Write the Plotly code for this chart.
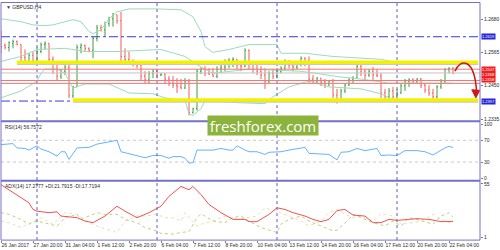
import plotly.graph_objects as go

# ---------------- data ----------------
bar_idx = list(range(114))
open_ = [1.2637,1.2589,1.2582,1.2596,1.2603,1.2592,1.2548,1.2534,1.2555,1.2534,
         1.2568,1.2592,1.2596,1.2541,1.2507,1.2483,1.2500,1.2514,1.2415,1.2446,
         1.2582,1.2589,1.2579,1.2572,1.2613,1.2650,1.2643,1.2664,1.2681,1.2695,
         1.2674,1.2551,1.2541,1.2531,1.2527,1.2521,1.2483,1.2470,1.2493,1.2500,
         1.2487,1.2490,1.2473,1.2459,1.2452,1.2446,1.2442,1.2466,1.2357,1.2371,
         1.2500,1.2507,1.2493,1.2490,1.2483,1.2507,1.2514,1.2534,1.2538,1.2541,
         1.2521,1.2517,1.2572,1.2524,1.2507,1.2500,1.2487,1.2466,1.2493,1.2483,
         1.2500,1.2510,1.2534,1.2521,1.2514,1.2527,1.2545,1.2534,1.2473,1.2466,
         1.2476,1.2463,1.2456,1.2466,1.2418,1.2398,1.2432,1.2452,1.2470,1.2476,
         1.2517,1.2500,1.2487,1.2500,1.2487,1.2483,1.2425,1.2412,1.2432,1.2412,
         1.2425,1.2449,1.2466,1.2470,1.2466,1.2473,1.2452,1.2435,1.2425,1.2412,
         1.2446,1.2466,1.2507,1.2510]
high = [1.2640,1.2596,1.2603,1.2609,1.2606,1.2592,1.2575,1.2562,1.2568,1.2582,
        1.2599,1.2603,1.2596,1.2551,1.2534,1.2507,1.2524,1.2524,1.2449,1.2592,
        1.2596,1.2592,1.2582,1.2620,1.2660,1.2660,1.2671,1.2688,1.2701,1.2695,
        1.2705,1.2579,1.2568,1.2541,1.2534,1.2527,1.2500,1.2500,1.2507,1.2507,
        1.2493,1.2493,1.2483,1.2483,1.2476,1.2473,1.2476,1.2473,1.2374,1.2507,
        1.2514,1.2517,1.2510,1.2510,1.2517,1.2524,1.2541,1.2545,1.2548,1.2541,
        1.2534,1.2579,1.2575,1.2527,1.2524,1.2517,1.2510,1.2500,1.2507,1.2510,
        1.2517,1.2541,1.2538,1.2527,1.2534,1.2551,1.2548,1.2551,1.2487,1.2480,
        1.2476,1.2473,1.2470,1.2473,1.2439,1.2439,1.2459,1.2476,1.2483,1.2524,
        1.2521,1.2507,1.2507,1.2514,1.2507,1.2493,1.2439,1.2442,1.2446,1.2439,
        1.2456,1.2473,1.2476,1.2476,1.2476,1.2476,1.2459,1.2452,1.2439,1.2452,
        1.2473,1.2510,1.2514,1.2514]
low = [1.2562,1.2575,1.2568,1.2579,1.2589,1.2534,1.2524,1.2527,1.2524,1.2527,
       1.2562,1.2575,1.2527,1.2490,1.2466,1.2473,1.2487,1.2408,1.2408,1.2446,
       1.2562,1.2568,1.2565,1.2545,1.2603,1.2637,1.2620,1.2654,1.2654,1.2664,
       1.2527,1.2527,1.2524,1.2517,1.2510,1.2466,1.2459,1.2459,1.2476,1.2476,
       1.2483,1.2459,1.2449,1.2442,1.2425,1.2439,1.2439,1.2347,1.2354,1.2364,
       1.2490,1.2483,1.2487,1.2480,1.2476,1.2493,1.2500,1.2510,1.2514,1.2507,
       1.2500,1.2514,1.2507,1.2493,1.2487,1.2473,1.2439,1.2456,1.2473,1.2476,
       1.2493,1.2507,1.2510,1.2500,1.2507,1.2517,1.2517,1.2459,1.2456,1.2456,
       1.2449,1.2442,1.2449,1.2408,1.2388,1.2398,1.2425,1.2449,1.2459,1.2473,
       1.2483,1.2466,1.2480,1.2466,1.2480,1.2408,1.2398,1.2405,1.2401,1.2401,
       1.2422,1.2432,1.2446,1.2456,1.2459,1.2442,1.2425,1.2415,1.2401,1.2405,
       1.2439,1.2459,1.2493,1.2490]
close = [1.2585,1.2582,1.2599,1.2603,1.2592,1.2548,1.2534,1.2555,1.2534,1.2568,
         1.2592,1.2596,1.2541,1.2507,1.2483,1.2500,1.2514,1.2415,1.2446,1.2582,
         1.2589,1.2579,1.2572,1.2613,1.2650,1.2643,1.2664,1.2681,1.2695,1.2674,
         1.2551,1.2541,1.2531,1.2527,1.2521,1.2483,1.2470,1.2493,1.2500,1.2487,
         1.2490,1.2473,1.2459,1.2452,1.2446,1.2442,1.2466,1.2357,1.2371,1.2500,
         1.2507,1.2493,1.2490,1.2483,1.2507,1.2514,1.2534,1.2538,1.2541,1.2521,
         1.2517,1.2572,1.2524,1.2507,1.2500,1.2487,1.2466,1.2493,1.2483,1.2500,
         1.2510,1.2534,1.2521,1.2514,1.2527,1.2545,1.2534,1.2473,1.2466,1.2476,
         1.2463,1.2456,1.2466,1.2418,1.2398,1.2432,1.2452,1.2470,1.2476,1.2517,
         1.2500,1.2487,1.2500,1.2487,1.2483,1.2425,1.2412,1.2432,1.2412,1.2425,
         1.2449,1.2466,1.2470,1.2466,1.2473,1.2452,1.2435,1.2425,1.2412,1.2446,
         1.2466,1.2507,1.2510,1.2493]

bb_up_i = [0,5,8,11,13,18,20,22,23,25,27,29,32,39,45,48,50,51,53,57,62,69,70,76,83,95,100,113]
bb_up = [1.2681,1.2671,1.2660,1.2657,1.2660,1.2678,1.2671,1.2637,1.2630,1.2643,1.2681,1.2705,
         1.2715,1.2715,1.2712,1.2688,1.2637,1.2585,1.2565,1.2575,1.2592,1.2592,1.2562,1.2562,
         1.2551,1.2541,1.2527,1.2524]
bb_mid_i = [0,5,9,16,21,29,40,46,50,53,62,75,85,90,97,113]
bb_mid = [1.2534,1.2551,1.2575,1.2579,1.2568,1.2568,1.2575,1.2551,1.2514,1.2493,1.2507,1.2500,
          1.2480,1.2473,1.2459,1.2459]
bb_low_i = [0,5,9,10,11,14,16,18,21,27,32,38,41,46,47,48,50,51,60,66,68,72,77,82,90,95,98,113]
bb_low = [1.2408,1.2432,1.2466,1.2493,1.2507,1.2507,1.2493,1.2442,1.2456,1.2456,1.2425,1.2422,
          1.2408,1.2398,1.2354,1.2347,1.2371,1.2398,1.2391,1.2388,1.2412,1.2446,1.2466,1.2446,
          1.2439,1.2422,1.2401,1.2398]

rsi_i = [0,2,3,4,6,7,9,10,12,14,15,16,17,19,22,24,26,27,29,30,33,36,38,40,42,43,45,46,47,48,
         49,53,55,57,58,59,61,62,64,66,67,70,72,74,76,77,80,82,84,85,87,89,91,94,95,97,99,100,
         101,104,106,108,110,111,112,113]
rsi = [62,63,64,56,55,52,60,54,49,41,49,49,35,56,57,63,66,67,70,49,44,38,42,42,37,40,40,37,28,29,
       52,52,55,52,52,60,52,49,49,44,48,49,52,54,57,46,44,44,34,48,49,55,51,55,42,43,42,46,
       51,51,49,43,52,56,59,56.76]

adx_i = [0,2,5,7,8,9,12,14,15,19,21,23,26,29,31,34,37,40,42,45,47,48,50,52,55,58,61,62,64,67,
         69,71,73,76,78,80,82,84,86,88,91,93,95,97,99,102,104,107,110,113]
adx = [54.0,49.0,40.8,35.9,29.2,27.5,26.0,26.9,22.6,21.0,17.6,16.0,22.6,32.5,27.5,21.0,26.0,32.5,
       42.4,52.3,49.0,52.3,44.1,34.2,26.0,19.3,19.3,17.0,17.0,24.3,30.9,29.2,26.0,22.6,19.3,17.0,
       19.3,28.2,29.2,23.6,22.6,16.0,16.0,19.3,18.3,19.3,20.0,19.3,17.0,17.28]
pdi_i = [0,2,5,7,9,14,16,19,20,24,26,29,31,34,36,39,40,43,45,47,49,50,53,56,58,60,62,65,69,70,
         72,75,77,80,83,84,87,88,91,93,96,98,100,102,104,107,108,110,112,113]
pdi = [26.0,24.3,19.3,14.4,17.6,12.7,21.0,24.3,19.3,26.0,24.3,24.3,19.3,16.0,11.1,7.7,5.2,4.5,6.1,
       7.1,21.0,25.0,17.6,16.0,21.0,22.6,17.6,11.1,6.1,14.4,19.3,22.6,17.6,12.7,7.7,8.4,19.3,24.3,
       19.3,16.0,12.7,17.6,12.7,21.0,19.3,16.0,14.4,22.6,26.0,21.79]
mdi_i = [0,2,5,10,13,16,19,22,25,29,31,34,36,39,41,43,45,46,49,50,53,56,59,62,64,66,69,71,75,77,
         80,82,84,86,88,90,93,95,98,100,103,105,108,110,112,113]
mdi = [17.6,16.0,11.1,21.0,14.4,26.0,24.3,16.0,11.1,6.1,17.6,22.6,22.6,24.3,21.0,21.0,17.6,26.0,
       12.7,14.4,17.6,22.6,19.3,21.0,22.6,30.9,26.9,24.3,17.6,12.7,17.6,26.0,29.2,24.3,21.0,22.6,
       17.0,25.0,22.6,14.4,16.0,17.6,24.3,19.3,16.0,17.72]

date_idx = [0,8,16,24,32,40,48,56,64,72,80,88,96,104,112]
date_labels = ["26 Jan 2017","27 Jan 20:00","31 Jan 04:00","1 Feb 12:00","2 Feb 20:00",
               "6 Feb 04:00","7 Feb 12:00","8 Feb 20:00","10 Feb 04:00","13 Feb 12:00",
               "14 Feb 20:00","16 Feb 04:00","17 Feb 12:00","20 Feb 20:00","22 Feb 04:00"]
week_starts = [9, 39, 69, 99]

price_ticks = [1.2680, 1.2565, 1.2450, 1.2335]
blue_levels = [1.2619, 1.2397]
red_levels = [1.2507, 1.2468, 1.2458]
bid_level = 1.2494
yellow_levels = [1.2531, 1.2401]
yellow_start = [4, 18]
rsi_levels = [70, 30]
rsi_ticks = [100, 70, 30, 0]
adx_ticks = [55, 1]

# ---------------- style ----------------
H = 250
def py(p):
    return (H - p) / H

FRAME = '#7272c6'
BB = '#9ddcb6'
UP = '#3f9c3f'
DN = '#f45a5a'
TXT = '#2a2a2a'
FONT = 'Liberation Sans'

fig = go.Figure()
for xi, yv in ((bb_up_i, bb_up), (bb_mid_i, bb_mid), (bb_low_i, bb_low)):
    fig.add_trace(go.Scatter(x=xi, y=yv, mode='lines', line=dict(color=BB, width=1),
                             xaxis='x', yaxis='y', hoverinfo='skip'))
fig.add_trace(go.Ohlc(x=bar_idx, open=open_, high=high, low=low, close=close,
                      increasing=dict(line=dict(color=UP, width=1)),
                      decreasing=dict(line=dict(color=DN, width=1)),
                      tickwidth=0.25, xaxis='x', yaxis='y'))
fig.add_trace(go.Scatter(x=rsi_i, y=rsi, mode='lines', line=dict(color='#66b2ff', width=1),
                         xaxis='x', yaxis='y2', hoverinfo='skip'))
fig.add_trace(go.Scatter(x=mdi_i, y=mdi, mode='lines', line=dict(color='#f2dcb2', width=1, dash='dot'),
                         xaxis='x', yaxis='y3', hoverinfo='skip'))
fig.add_trace(go.Scatter(x=pdi_i, y=pdi, mode='lines', line=dict(color='#b4d67a', width=1, dash='dot'),
                         xaxis='x', yaxis='y3', hoverinfo='skip'))
fig.add_trace(go.Scatter(x=adx_i, y=adx, mode='lines', line=dict(color='#f25050', width=1),
                         xaxis='x', yaxis='y3', hoverinfo='skip'))

shapes = []
for w in week_starts:
    shapes.append(dict(type='line', xref='x', yref='paper', x0=w, x1=w, y0=py(241), y1=1,
                       line=dict(color='#5c5cb8', width=1, dash='dot'), layer='above'))
for lv in rsi_levels:
    shapes.append(dict(type='line', xref='paper', yref='y2', x0=0, x1=1, y0=lv, y1=lv,
                       line=dict(color='#c8c8c8', width=1, dash='dot'), layer='below'))
shapes.append(dict(type='line', xref='paper', yref='y', x0=0, x1=1, y0=bid_level, y1=bid_level,
                   line=dict(color='#c4c4c4', width=1), layer='above'))
for lv in blue_levels:
    shapes.append(dict(type='line', xref='paper', yref='y', x0=0, x1=1, y0=lv, y1=lv,
                       line=dict(color='#3a3ae0', width=1, dash='dashdot'), layer='above'))
for lv, st in zip(yellow_levels, yellow_start):
    shapes.append(dict(type='line', xref='x', yref='y', x0=st, x1=119.3, y0=lv - 0.0006, y1=lv - 0.0006,
                       line=dict(color='#c8c8c8', width=2), layer='above'))
    shapes.append(dict(type='line', xref='x', yref='y', x0=st, x1=119.3, y0=lv, y1=lv,
                       line=dict(color='#f2f200', width=3.5), layer='above'))
for lv in red_levels:
    shapes.append(dict(type='line', xref='paper', yref='y', x0=0, x1=1, y0=lv, y1=lv,
                       line=dict(color='#f07878', width=1), layer='above'))
shapes.append(dict(type='path', xref='x', yref='y',
                   path='M 113.5,1.2500 C 114.8,1.2545 118.4,1.2548 118.9,1.2428',
                   line=dict(color='#d01818', width=1.5), layer='above'))
shapes.append(dict(type='path', xref='x', yref='y',
                   path='M 117.7,1.2436 L 119.7,1.2434 L 118.7,1.2408 Z',
                   line=dict(color='#d01818', width=1), fillcolor='#d01818', layer='above'))
shapes.append(dict(type='rect', xref='paper', yref='paper', x0=0, x1=1, y0=py(241), y1=py(0.5),
                   line=dict(color=FRAME, width=1), layer='above'))
for sep in (120.7, 181):
    shapes.append(dict(type='line', xref='paper', yref='paper', x0=0, x1=1, y0=py(sep), y1=py(sep),
                       line=dict(color=FRAME, width=2), layer='above'))

ann = []
def box(lv, txt, color, anchor='middle', shift=0):
    ann.append(dict(xref='paper', yref='y', x=1.003, y=lv, xanchor='left', yanchor=anchor,
                    yshift=shift, text=txt, showarrow=False, bgcolor=color, borderpad=0,
                    font=dict(family=FONT, size=4, color='white')))
box(blue_levels[0], f'{blue_levels[0]:.4f}', '#2626d8')
box(blue_levels[1], f'{blue_levels[1]:.4f}', '#2626d8')
box(red_levels[2], f'{red_levels[2]:.4f}', '#f02020', 'bottom', 0.5)
box(red_levels[1], f'{red_levels[1]:.4f}', '#f02020', 'bottom', 2.5)
box(red_levels[0], f'{red_levels[0]:.4f}', '#f02020')

ann.append(dict(xref='paper', yref='paper', x=0.006, y=py(5), xanchor='left', yanchor='middle',
                text="<span style='color:#33339a'>▼</span> GBPUSD,H4", showarrow=False,
                font=dict(family=FONT, size=5, color=TXT)))
ann.append(dict(xref='paper', yref='paper', x=0.004, y=py(127), xanchor='left', yanchor='middle',
                text='RSI(14) 56.7572', showarrow=False, font=dict(family=FONT, size=5, color=TXT)))
ann.append(dict(xref='paper', yref='paper', x=0.004, y=py(186), xanchor='left', yanchor='middle',
                text='ADX(14) 17.2777 +DI:21.7915 -DI:17.7194', showarrow=False,
                font=dict(family=FONT, size=5, color=TXT)))
ann.append(dict(xref='paper', yref='paper', x=(263 - 1) / 479, y=py(124.5), xanchor='center',
                yanchor='middle', text='freshforex.com', showarrow=False, bgcolor='#8cb33c',
                width=110, height=19, borderpad=0,
                font=dict(family='Open Sans', size=15, color='white')))

axis_common = dict(showgrid=False, zeroline=False, showline=False, fixedrange=True,
                   tickfont=dict(family=FONT, size=5, color=TXT))

fig.update_layout(
    width=500, height=250, margin=dict(l=1, r=20, t=0, b=0),
    paper_bgcolor='white', plot_bgcolor='white', showlegend=False,
    font=dict(family=FONT, size=5, color=TXT),
    xaxis=dict(domain=[0, 1], range=[0, 119.75], anchor='y3', tickmode='array',
               tickvals=date_idx, ticktext=date_labels, ticks='outside', ticklen=2,
               tickcolor=FRAME, ticklabelposition='outside right', tickangle=0,
               rangeslider=dict(visible=False), **axis_common),
    yaxis=dict(domain=[py(120), py(0)], range=[1.23297, 1.27389], side='right', anchor='x',
               tickmode='array', tickvals=price_ticks, ticktext=[f'{v:.4f}' for v in price_ticks],
               ticks='outside', ticklen=2, tickcolor=FRAME, **axis_common),
    yaxis2=dict(domain=[py(180), py(122)], range=[-2.73, 102.7], side='right', anchor='x',
                tickmode='array', tickvals=rsi_ticks, ticktext=[str(v) for v in rsi_ticks],
                ticks='outside', ticklen=2, tickcolor=FRAME, **axis_common),
    yaxis3=dict(domain=[py(241), py(182)], range=[-1.48, 56.94], side='right', anchor='x',
                tickmode='array', tickvals=adx_ticks, ticktext=[str(v) for v in adx_ticks],
                ticks='outside', ticklen=2, tickcolor=FRAME, **axis_common),
    shapes=shapes, annotations=ann,
)

fig.write_html('out.html')
